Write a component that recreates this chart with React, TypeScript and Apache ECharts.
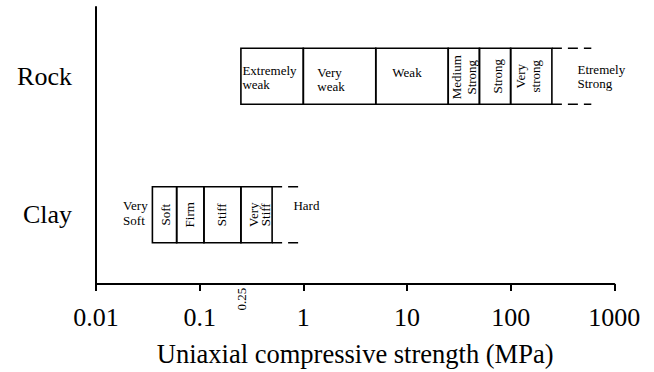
import React, { useEffect, useRef } from 'react';
import * as echarts from 'echarts';

const categories = ['Clay', 'Rock'];
const rockBounds = [0.25, 1, 5, 25, 50, 100, 250];
const rockLabels = ['Extremely\nweak', 'Very\nweak', 'Weak', 'Medium\nStrong', 'Strong', 'Very\nstrong'];
const rockOpenEnd = 600;
const rockOpenLabel = 'Etremely\nStrong';
const clayBounds = [0.035, 0.06, 0.11, 0.25, 0.5];
const clayLabels = ['Soft', 'Firm', 'Stiff', 'Very\nStiff'];
const clayOpenEnd = 1;
const clayOpenLabel = 'Hard';
const clayOutsideLabel = 'Very\nSoft';
const extraTickValues = [0.25];
const extraTickLabels = ['0.25'];
const xMin = 0.01;
const xMax = 1000;
const axisTitle = 'Uniaxial compressive strength (MPa)';

type Seg = { start: number; end: number; cat: number; label: string; kind: 'box' | 'open' | 'outside' };

const segs: Seg[] = [];
rockBounds.slice(0, -1).forEach((b, i) =>
  segs.push({ start: b, end: rockBounds[i + 1], cat: 1, label: rockLabels[i], kind: 'box' })
);
segs.push({ start: rockBounds[rockBounds.length - 1], end: rockOpenEnd, cat: 1, label: rockOpenLabel, kind: 'open' });
clayBounds.slice(0, -1).forEach((b, i) =>
  segs.push({ start: b, end: clayBounds[i + 1], cat: 0, label: clayLabels[i], kind: 'box' })
);
segs.push({ start: clayBounds[clayBounds.length - 1], end: clayOpenEnd, cat: 0, label: clayOpenLabel, kind: 'open' });
segs.push({ start: clayBounds[0], end: clayBounds[0], cat: 0, label: clayOutsideLabel, kind: 'outside' });

// label layout (pixel offsets, style only)
const LAYOUT: Record<string, { align: 'left' | 'center'; dx: number; dy: number; rot?: boolean; lh?: number }> = {
  'Extremely\nweak': { align: 'left', dx: 1.5, dy: 1.3 },
  'Very\nweak': { align: 'left', dx: 14, dy: 3 },
  'Weak': { align: 'center', dx: -5, dy: -3.5 },
  'Medium\nStrong': { align: 'center', dx: 0.5, dy: 1, rot: true, lh: 15 },
  'Strong': { align: 'center', dx: 2, dy: 0, rot: true },
  'Very\nstrong': { align: 'center', dx: -3, dy: 0, rot: true, lh: 15 },
  'Etremely\nStrong': { align: 'left', dx: 25.6, dy: 0.3, lh: 13.5 },
  'Soft': { align: 'center', dx: 0.5, dy: 0, rot: true },
  'Firm': { align: 'center', dx: -1, dy: 0, rot: true },
  'Stiff': { align: 'center', dx: -0.5, dy: 0, rot: true },
  'Very\nStiff': { align: 'center', dx: 2.5, dy: 0, rot: true, lh: 12 },
  'Hard': { align: 'left', dx: 21.3, dy: -9.4 },
  'Very\nSoft': { align: 'left', dx: -29.3, dy: -2, lh: 14.5 },
};

const FONT = 'Liberation Serif';

export default function App() {
  const ref = useRef<HTMLDivElement>(null);
  useEffect(() => {
    document.body.style.margin = '0';
    const chart = echarts.init(ref.current!, undefined, { renderer: 'svg' });
    chart.setOption({
      animation: false,
      backgroundColor: '#fff',
      textStyle: { fontFamily: FONT },
      grid: { left: 96, right: 39.7, top: 7, bottom: 85, containLabel: false },
      xAxis: {
        type: 'log',
        logBase: 10,
        min: xMin,
        max: xMax,
        name: axisTitle,
        nameLocation: 'middle',
        nameGap: 56,
        nameTextStyle: { fontFamily: FONT, fontSize: 26.5, color: '#000' },
        axisLine: { show: true, lineStyle: { color: '#000', width: 2 } },
        axisTick: { show: true, inside: false, length: 7, lineStyle: { color: '#000', width: 2 } },
        axisLabel: {
          margin: 20,
          fontFamily: FONT,
          fontSize: 26,
          color: '#000',
          formatter: (v: number) => String(+v.toPrecision(4)),
        },
        splitLine: { show: false },
        minorTick: { show: false },
      },
      yAxis: {
        type: 'category',
        data: categories,
        axisLine: { show: true, lineStyle: { color: '#000', width: 2 } },
        axisTick: { show: false },
        axisLabel: { margin: 24, fontFamily: FONT, fontSize: 26, color: '#000' },
        splitLine: { show: false },
      },
      series: [
        {
          type: 'custom',
          coordinateSystem: 'cartesian2d',
          clip: false,
          encode: { x: [0, 1], y: 2 },
          data: segs.map((s) => [s.start, s.end, s.cat]),
          renderItem: (params: any, api: any) => {
            const seg = segs[params.dataIndex];
            const cs = params.coordSys;
            const h = (cs.height / categories.length) * 0.405;
            const a = api.coord([seg.start, seg.cat]);
            const b = api.coord([seg.end, seg.cat]);
            const x0 = a[0];
            const x1 = b[0];
            const yc = a[1];
            const children: any[] = [];
            if (seg.kind === 'box') {
              children.push({
                type: 'rect',
                shape: { x: x0, y: yc - h / 2, width: x1 - x0, height: h },
                style: { fill: 'none', stroke: '#000', lineWidth: 1.6 },
              });
            } else if (seg.kind === 'open') {
              [yc - h / 2, yc + h / 2].forEach((yy) =>
                children.push({
                  type: 'line',
                  shape: { x1: x0, y1: yy, x2: x1, y2: yy },
                  style: { stroke: '#000', lineWidth: 1.6, lineDash: [10, 6] },
                })
              );
            }
            const L = LAYOUT[seg.label] || { align: 'center', dx: 0, dy: 0 };
            const tx = L.align === 'left' ? x0 + L.dx : (x0 + x1) / 2 + L.dx;
            children.push({
              type: 'text',
              x: tx,
              y: yc + L.dy,
              rotation: L.rot ? Math.PI / 2 : 0,
              style: {
                text: seg.label,
                fontFamily: FONT,
                fontSize: 13,
                fill: '#000',
                align: L.rot ? 'center' : L.align,
                verticalAlign: 'middle',
                lineHeight: L.lh || 13.5,
              },
            });
            return { type: 'group', children };
          },
        },
        {
          type: 'custom',
          coordinateSystem: 'cartesian2d',
          clip: false,
          encode: { x: 0, y: 1 },
          data: extraTickValues.map((v) => [v, 0]),
          renderItem: (params: any, api: any) => {
            const cs = params.coordSys;
            const p = api.coord([api.value(0), 0]);
            return {
              type: 'text',
              x: p[0] + 1,
              y: cs.y + cs.height + 15,
              rotation: Math.PI / 2,
              style: {
                text: extraTickLabels[params.dataIndex],
                fontFamily: FONT,
                fontSize: 13,
                fill: '#000',
                align: 'center',
                verticalAlign: 'middle',
              },
            };
          },
        },
      ],
    });
    return () => chart.dispose();
  }, []);
  return <div ref={ref} style={{ position: 'absolute', left: 0, top: 0, width: 654, height: 372 }} />;
}
